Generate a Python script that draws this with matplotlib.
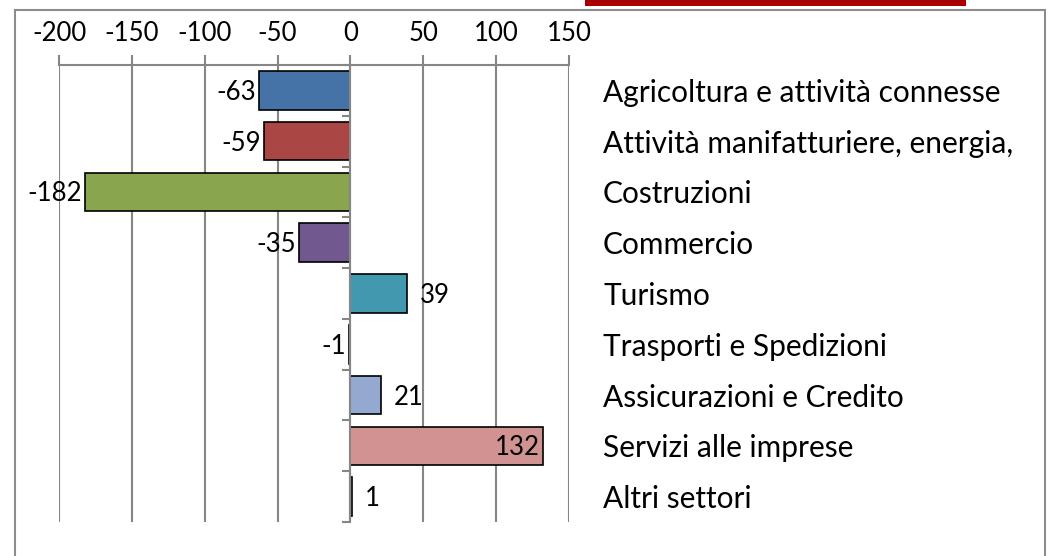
import numpy as np
import matplotlib.pyplot as plt
from matplotlib.patches import Rectangle

categories = ["Agricoltura e attività connesse", "Attività manifatturiere, energia,",
              "Costruzioni", "Commercio", "Turismo", "Trasporti e Spedizioni",
              "Assicurazioni e Credito", "Servizi alle imprese", "Altri settori"]
values = [-63, -59, -182, -35, 39, -1, 21, 132, 1]
colors = ["#4572A7", "#AA4643", "#89A54E", "#71588F", "#4198AF",
          "#DB843D", "#93A9CF", "#D19392", "#B9CD96"]
xticks = [-200, -150, -100, -50, 0, 50, 100, 150]

plt.rcParams['font.family'] = ['Lato', 'DejaVu Sans']
grey = "#868686"
fs = 18.5      # numbers
fs_cat = 21.5  # category names

W, H = 1052, 556
fig = plt.figure(figsize=(W / 100, H / 100), dpi=100)
ax = fig.add_axes([59 / W, 1 - 522 / H, (569 - 59) / W, (522 - 65) / H])

y = np.arange(len(values))
ax.barh(y, values, height=0.76, color=colors, edgecolor="black", linewidth=1.2, zorder=3)
ax.set_xlim(-200, 150)
ax.set_ylim(len(values) - 0.5, -0.5)

# x axis on top
ax.set_xticks(xticks)
ax.set_xticklabels([str(t) for t in xticks])
ax.xaxis.tick_top()
ax.tick_params(axis="x", direction="out", length=7, width=1.5, color=grey,
               labelsize=fs, pad=7)
ax.grid(axis="x", color=grey, linewidth=1.5, zorder=0)

# category axis sits on zero
ax.spines["left"].set_position(("data", 0))
ax.spines["left"].set_color(grey)
ax.spines["left"].set_linewidth(1.5)
ax.spines["left"].set_zorder(4)
ax.spines["top"].set_color(grey)
ax.spines["top"].set_linewidth(1.5)
ax.spines["right"].set_visible(False)
ax.spines["bottom"].set_visible(False)

ax.set_yticks(y)
ax.set_yticklabels(categories)
ax.set_yticks(np.arange(len(values) + 1) - 0.5, minor=True)
ax.tick_params(axis="y", which="major", left=False, right=False,
               labelleft=False, labelright=True, labelsize=fs_cat, pad=21)
ax.tick_params(axis="y", which="minor", left=True, right=False, direction="out",
               length=6, width=1.5, color=grey)

for yi, v in zip(y, values):
    if v > 100:
        ax.annotate(str(v), (v, yi), xytext=(-3, -2), textcoords="offset pixels",
                    ha="right", va="center", fontsize=fs, zorder=5)
    elif v < 0:
        ax.annotate(str(v), (v, yi), xytext=(-3, -2), textcoords="offset pixels",
                    ha="right", va="center", fontsize=fs, zorder=5)
    else:
        ax.annotate(str(v), (v, yi), xytext=(13, -2), textcoords="offset pixels",
                    ha="left", va="center", fontsize=fs, zorder=5)

# outer frame and the red band at the top
fig.add_artist(Rectangle((15 / W, -0.05), (1045 - 15) / W, 1 - 10 / H + 0.05,
                         transform=fig.transFigure, fill=False, edgecolor="#8c8c8c", lw=1.5))
fig.add_artist(Rectangle((585 / W, 1 - 6 / H), (966 - 585) / W, 6 / H,
                         transform=fig.transFigure, color="#A80000", lw=0))

fig.savefig("out.png", dpi=100)
